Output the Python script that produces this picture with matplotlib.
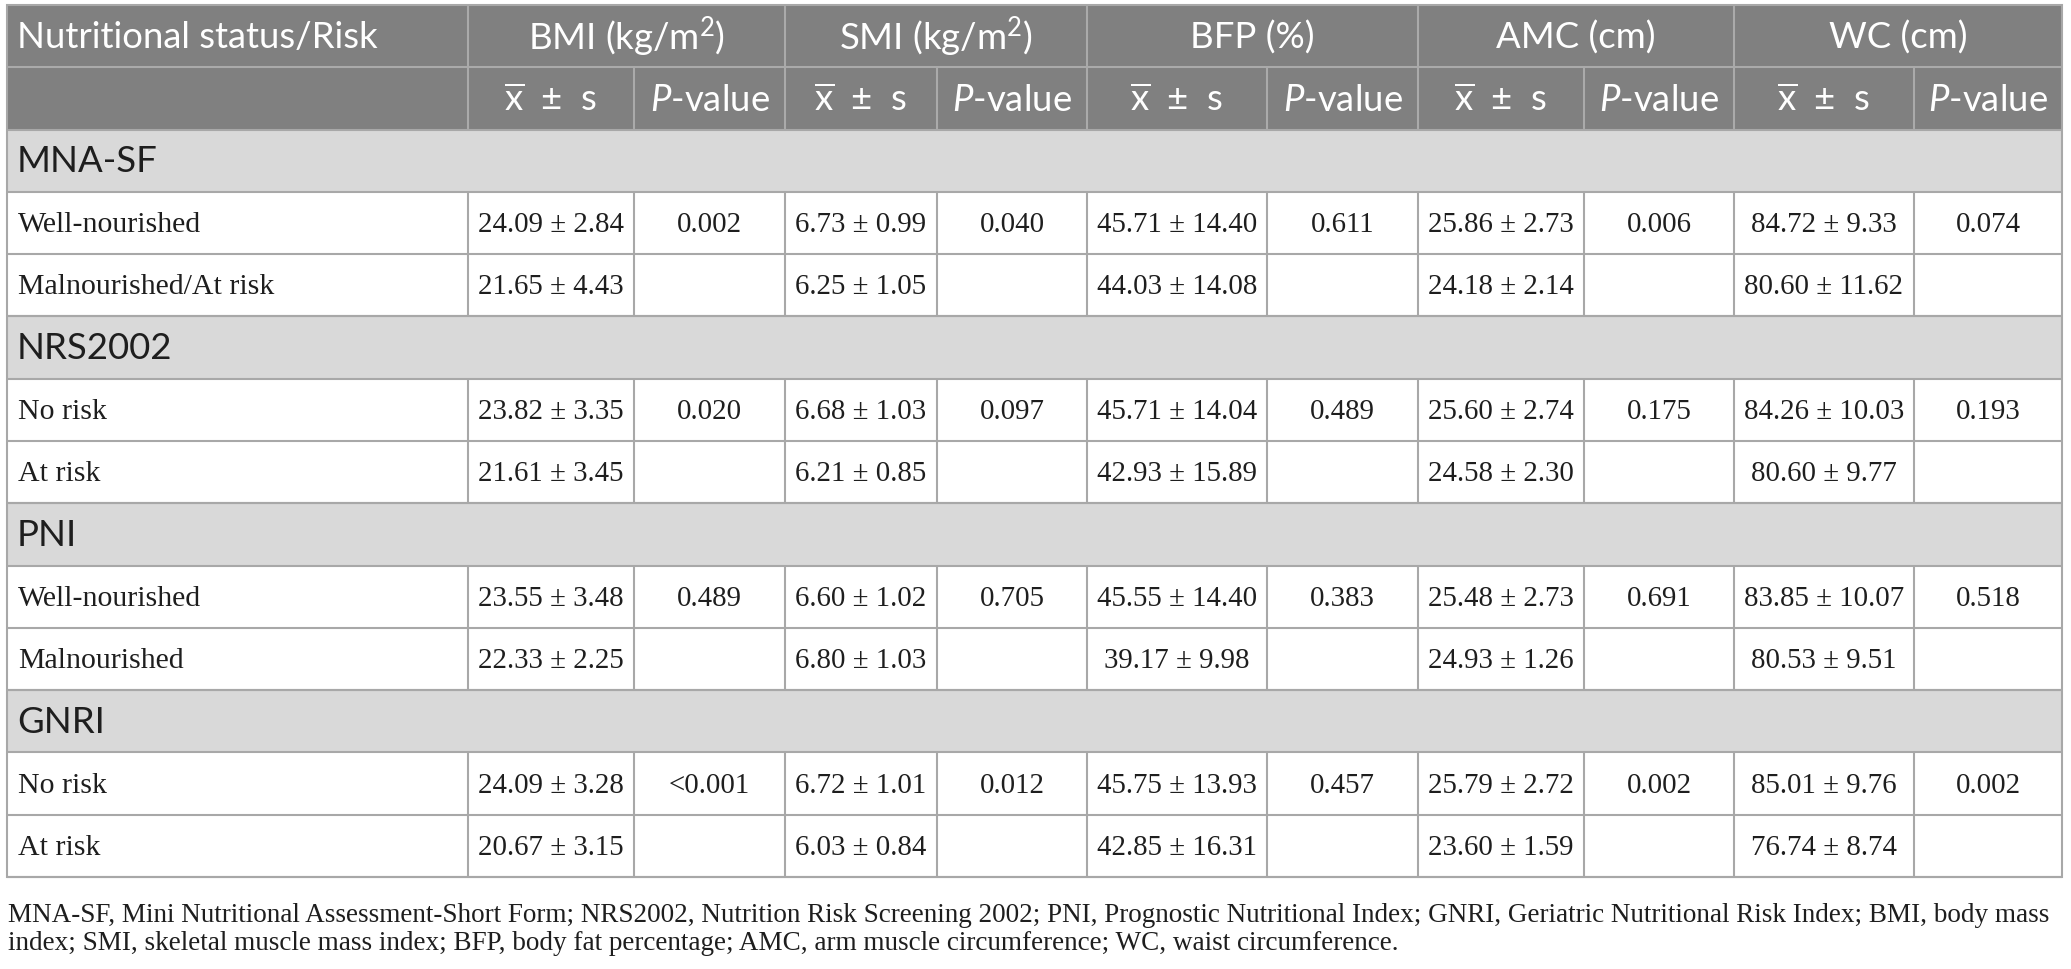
import numpy as np
import matplotlib
matplotlib.use("Agg")
import matplotlib.pyplot as plt
from matplotlib.patches import Rectangle

plt.rcParams['mathtext.fontset'] = 'custom'
plt.rcParams['mathtext.rm'] = 'Lato'
plt.rcParams['mathtext.it'] = 'Lato:italic'

# ---- table content ----
groups = ["MNA-SF", "NRS2002", "PNI", "GNRI"]
row_labels = ["Well-nourished", "Malnourished/At risk",
              "No risk", "At risk",
              "Well-nourished", "Malnourished",
              "No risk", "At risk"]
measures = [r"BMI (kg/m$^{2}$)", r"SMI (kg/m$^{2}$)", "BFP (%)", "AMC (cm)", "WC (cm)"]

bmi_mean = [24.09, 21.65, 23.82, 21.61, 23.55, 22.33, 24.09, 20.67]
bmi_sd = [2.84, 4.43, 3.35, 3.45, 3.48, 2.25, 3.28, 3.15]
bmi_p = ["0.002", "0.020", "0.489", "<0.001"]

smi_mean = [6.73, 6.25, 6.68, 6.21, 6.60, 6.80, 6.72, 6.03]
smi_sd = [0.99, 1.05, 1.03, 0.85, 1.02, 1.03, 1.01, 0.84]
smi_p = ["0.040", "0.097", "0.705", "0.012"]

bfp_mean = [45.71, 44.03, 45.71, 42.93, 45.55, 39.17, 45.75, 42.85]
bfp_sd = [14.40, 14.08, 14.04, 15.89, 14.40, 9.98, 13.93, 16.31]
bfp_p = ["0.611", "0.489", "0.383", "0.457"]

amc_mean = [25.86, 24.18, 25.60, 24.58, 25.48, 24.93, 25.79, 23.60]
amc_sd = [2.73, 2.14, 2.74, 2.30, 2.73, 1.26, 2.72, 1.59]
amc_p = ["0.006", "0.175", "0.691", "0.002"]

wc_mean = [84.72, 80.60, 84.26, 80.60, 83.85, 80.53, 85.01, 76.74]
wc_sd = [9.33, 11.62, 10.03, 9.77, 10.07, 9.51, 9.76, 8.74]
wc_p = ["0.074", "0.193", "0.518", "0.002"]

footnote = ["MNA-SF, Mini Nutritional Assessment-Short Form; NRS2002, Nutrition Risk Screening 2002; "
            "PNI, Prognostic Nutritional Index; GNRI, Geriatric Nutritional Risk Index; BMI, body mass",
            "index; SMI, skeletal muscle mass index; BFP, body fat percentage; AMC, arm muscle "
            "circumference; WC, waist circumference."]

means = [bmi_mean, smi_mean, bfp_mean, amc_mean, wc_mean]
sds = [bmi_sd, smi_sd, bfp_sd, amc_sd, wc_sd]
pvals = [bmi_p, smi_p, bfp_p, amc_p, wc_p]

# ---- layout (pixels) ----
W, H = 2071, 970
col_edges = [7, 468, 634, 785, 937, 1087, 1267, 1418, 1584, 1734, 1914, 2062]
row_edges = np.linspace(6, 878, 15)

HEAD_BG = "#808080"
HEAD_LINE = "#aaaaaa"
GROUP_BG = "#d9d9d9"
GRID = "#a8a8a8"
TXT = "#1e1e1e"
LW = 1.5

SANS = "Lato"
SERIF = "Liberation Serif"
FS_HEAD = 26.3
FS_LABEL = 21.5
FS_NUM = 20.8

fig = plt.figure(figsize=(W / 100, H / 100), dpi=100)
ax = fig.add_axes([0, 0, 1, 1])
ax.set_xlim(0, W)
ax.set_ylim(H, 0)
ax.axis("off")

x0, x1 = col_edges[0], col_edges[-1]


def cell(xa, xb, ya, yb, color):
    ax.add_patch(Rectangle((xa, ya), xb - xa, yb - ya, facecolor=color, edgecolor="none", zorder=1))


def mid(a, b):
    return (a + b) / 2


# header background
cell(x0, x1, row_edges[0], row_edges[2], HEAD_BG)

# header row 1
ax.text(col_edges[0] + 10, mid(row_edges[0], row_edges[1]), "Nutritional status/Risk",
        fontsize=FS_HEAD, family=SANS, color="white", va="center", ha="left", zorder=3)
for k, m in enumerate(measures):
    xa, xb = col_edges[1 + 2 * k], col_edges[3 + 2 * k]
    ax.text(mid(xa, xb), mid(row_edges[0], row_edges[1]), m, fontsize=FS_HEAD, family=SANS,
            color="white", va="center", ha="center", zorder=3)
    # header row 2
    ax.text(mid(xa, col_edges[2 + 2 * k]), mid(row_edges[1], row_edges[2]) + 1,
            r"$\overline{\mathrm{x}}$  ±  s", fontsize=FS_HEAD, family=SANS,
            color="white", va="center", ha="center", zorder=3)
    ax.text(mid(col_edges[2 + 2 * k], xb), mid(row_edges[1], row_edges[2]) + 1,
            r"$P$-value", fontsize=FS_HEAD, family=SANS,
            color="white", va="center", ha="center", zorder=3)

# header lines
ax.hlines(row_edges[1], x0, x1, color=HEAD_LINE, lw=LW, zorder=2)
for k in range(len(measures)):
    ax.vlines(col_edges[1 + 2 * k], row_edges[0], row_edges[2], color=HEAD_LINE, lw=LW, zorder=2)
    ax.vlines(col_edges[2 + 2 * k], row_edges[1], row_edges[2], color=HEAD_LINE, lw=LW, zorder=2)

# body
r = 2
i = 0
for g, gname in enumerate(groups):
    ya, yb = row_edges[r], row_edges[r + 1]
    cell(x0, x1, ya, yb, GROUP_BG)
    ax.text(col_edges[0] + 10, mid(ya, yb), gname, fontsize=FS_HEAD, family=SANS,
            color=TXT, va="center", ha="left", zorder=3)
    ax.hlines([ya, yb], x0, x1, color=GRID, lw=LW, zorder=2)
    r += 1
    for j in range(2):
        ya, yb = row_edges[r], row_edges[r + 1]
        ym = mid(ya, yb) + 1
        ax.text(col_edges[0] + 11, ym, row_labels[i], fontsize=FS_LABEL, family=SERIF,
                color=TXT, va="center", ha="left", zorder=3)
        for k in range(len(measures)):
            s = f"{means[k][i]:.2f} ± {sds[k][i]:.2f}"
            ax.text(mid(col_edges[1 + 2 * k], col_edges[2 + 2 * k]), ym, s, fontsize=FS_NUM,
                    family=SERIF, color=TXT, va="center", ha="center", zorder=3)
            if j == 0:
                ax.text(mid(col_edges[2 + 2 * k], col_edges[3 + 2 * k]), ym, pvals[k][g],
                        fontsize=FS_NUM, family=SERIF, color=TXT, va="center", ha="center", zorder=3)
        ax.vlines(col_edges[1:-1], ya, yb, color=GRID, lw=LW, zorder=2)
        ax.hlines(yb, x0, x1, color=GRID, lw=LW, zorder=2)
        r += 1
        i += 1

# outer border
ax.add_patch(Rectangle((x0, row_edges[0]), x1 - x0, row_edges[-1] - row_edges[0],
                       facecolor="none", edgecolor=GRID, lw=LW, zorder=4))

# footnote, sized to span the same width as in the source
fn = ax.text(x0 + 1, 922, footnote[0], fontsize=19, family=SERIF, color=TXT,
             va="baseline", ha="left")
fig.canvas.draw()
bb = fn.get_window_extent()
fs = 19 * 2047 / bb.width
fn.set_fontsize(fs)
ax.text(x0 + 1, 950, footnote[1], fontsize=fs, family=SERIF, color=TXT,
        va="baseline", ha="left")

fig.savefig("out.png", dpi=100, facecolor="white")
